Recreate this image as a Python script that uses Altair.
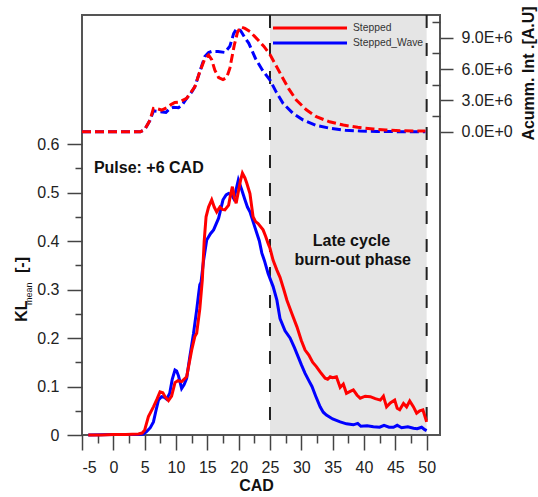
import altair as alt
import pandas as pd

# ---------------- data ----------------
# KL_mean [-] , series "Stepped" (red, solid)
kl_red_cad = [-4, -2, 0, 2, 4, 4.6, 5.0, 5.6, 6.4, 7.0, 7.45, 7.9, 8.25, 8.8, 9.3, 9.84, 10.3, 10.9,
              11.7, 12.5, 13.0, 13.3, 13.8, 14.2, 14.5, 14.8, 15.2, 15.7, 16.1, 16.5, 17.0, 17.4, 17.8,
              18.4, 18.7, 19.0, 19.3, 19.6, 20.0, 20.3, 20.6, 21.0, 21.3, 21.8, 22.3, 22.7, 23.1, 23.9,
              24.3, 24.7, 25.0, 25.5, 26.1, 26.6, 27.2, 27.7, 28.5, 29.3, 30.0, 30.6, 31.2, 31.8, 32.4,
              33.0, 33.8, 34.2, 34.6, 35.0, 35.6, 36.2, 36.7, 37.2, 37.8, 38.3, 38.9, 39.4, 40.2, 41.0,
              41.8, 42.6, 43.1, 43.6, 44.2, 44.9, 45.3, 45.7, 46.3, 46.8, 47.3, 47.9, 48.4, 48.9, 49.4, 50.0]
kl_red_val = [0.0, 0.0, 0.001, 0.001, 0.002, 0.004, 0.01, 0.038, 0.058, 0.075, 0.089, 0.087, 0.079, 0.071,
              0.08, 0.108, 0.112, 0.11, 0.12, 0.175, 0.203, 0.21, 0.26, 0.32, 0.40, 0.45, 0.47, 0.485,
              0.47, 0.46, 0.47, 0.465, 0.464, 0.474, 0.495, 0.512, 0.49, 0.478, 0.505, 0.525, 0.54, 0.53,
              0.519, 0.498, 0.45, 0.44, 0.436, 0.423, 0.41, 0.395, 0.385, 0.36, 0.34, 0.325, 0.30, 0.278,
              0.25, 0.223, 0.195, 0.175, 0.165, 0.15, 0.141, 0.13, 0.117, 0.115, 0.12, 0.118, 0.12, 0.098,
              0.105, 0.086, 0.09, 0.093, 0.082, 0.076, 0.08, 0.079, 0.075, 0.072, 0.08, 0.058, 0.066,
              0.072, 0.055, 0.052, 0.065, 0.058, 0.07, 0.058, 0.045, 0.05, 0.052, 0.027]

# KL_mean [-] , series "Stepped_Wave" (blue, solid)
kl_blue_cad = [-4, 0, 4, 4.8, 5.3, 5.9, 6.4, 6.8, 7.2, 7.7, 8.1, 8.5, 9.0, 9.4, 9.84, 10.1, 10.4, 10.9, 11.3,
               11.7, 12.2, 12.8, 13.3, 13.6, 13.8, 14.0, 14.4, 14.9, 15.5, 16.0, 16.8, 17.5, 18.0, 18.4,
               18.9, 19.2, 19.4, 19.95, 20.5, 21.0, 21.4, 21.8, 22.3, 22.9, 23.3, 23.7, 24.1, 24.7, 25.5,
               26.1, 26.6, 27.4, 28.2, 28.9, 29.5, 30.0, 30.6, 31.2, 31.7, 32.3, 33.0, 33.5, 34.0, 35.0,
               36.2, 37.2, 38.3, 39.0, 39.5, 40.5, 41.5, 42.5, 43.2, 44.0, 44.7, 45.3, 46.0, 47.0, 47.9,
               48.5, 49.2, 49.7, 50.0]
kl_blue_val = [0.0, 0.001, 0.001, 0.002, 0.007, 0.015, 0.027, 0.05, 0.072, 0.079, 0.078, 0.074, 0.086,
               0.115, 0.134, 0.132, 0.122, 0.096, 0.104, 0.117, 0.161, 0.21, 0.258, 0.29, 0.31, 0.315,
               0.36, 0.402, 0.415, 0.423, 0.447, 0.485, 0.495, 0.498, 0.495, 0.488, 0.495, 0.526, 0.505,
               0.485, 0.47, 0.46, 0.44, 0.416, 0.40, 0.375, 0.36, 0.333, 0.306, 0.278, 0.24, 0.215, 0.2,
               0.18, 0.161, 0.145, 0.127, 0.112, 0.1, 0.08, 0.058, 0.047, 0.041, 0.033, 0.027, 0.023,
               0.021, 0.024, 0.018, 0.019, 0.017, 0.016, 0.02, 0.016, 0.016, 0.02, 0.015, 0.017, 0.014,
               0.013, 0.016, 0.011, 0.009]

# Accumulated intensity [A.U] (in units of 1E+6), dashed curves
acc_red_cad = [-5, 4.3, 5.0, 5.85, 6.4, 7.0, 7.7, 8.5, 9.2, 9.8, 10.5, 11.7, 13.0, 13.8, 14.6, 15.2, 15.7,
               16.2, 16.8, 17.5, 18.1, 18.6, 19.3, 19.8, 20.3, 21.0, 21.8, 23.1, 24.0, 25.0, 26.0, 26.9,
               28.0, 29.2, 30.8, 32.4, 34.5, 36.7, 39.0, 41.5, 43.5, 45.8, 48.0, 49.8]
acc_red_e6 = [0.0, 0.0, 0.2, 1.12, 2.24, 2.2, 2.08, 2.3, 2.6, 2.8, 2.85, 3.2, 4.3, 5.75, 7.0, 7.35, 6.9,
              5.9, 5.2, 5.0, 5.2, 6.1, 8.3, 9.5, 10.05, 9.9, 9.6, 8.8, 8.2, 7.4, 6.3, 5.3, 4.1, 3.04, 2.1,
              1.44, 0.95, 0.64, 0.42, 0.26, 0.17, 0.1, 0.08, 0.07]

acc_blue_cad = [-5, 4.3, 5.0, 5.85, 6.4, 7.2, 7.8, 8.4, 9.0, 9.6, 10.4, 11.0, 11.7, 12.5, 13.0, 13.8, 14.6,
                15.2, 15.7, 16.7, 17.8, 18.6, 19.2, 19.7, 20.3, 21.0, 21.6, 22.7, 23.8, 25.0, 26.0, 27.1,
                28.6, 30.3, 32.4, 34.6, 37.0, 39.4, 42.0, 45.0, 49.8]
acc_blue_e6 = [0.0, 0.0, 0.2, 1.1, 2.0, 1.95, 1.9, 1.86, 2.2, 2.35, 2.3, 2.6, 3.2, 3.8, 4.3, 5.75, 7.2,
               7.6, 7.7, 7.7, 7.6, 8.2, 9.4, 9.9, 9.7, 9.0, 8.5, 7.0, 5.9, 4.95, 3.8, 2.7, 1.8, 1.12, 0.6,
               0.33, 0.15, 0.07, 0.03, 0.01, 0.0]

series_names = ["Stepped", "Stepped_Wave"]
series_colors = ["#ff0000", "#0000ff"]

phase_bounds = [25, 50]                    # late cycle burn-out phase (CAD)
x_major = [-5, 0, 5, 10, 15, 20, 25, 30, 35, 40, 45, 50]
x_minor = [-2.5, 2.5, 7.5, 12.5, 17.5, 22.5, 27.5, 32.5, 37.5, 42.5, 47.5]
yl_major = [0, 0.1, 0.2, 0.3, 0.4, 0.5, 0.6]
yl_minor = [0.05, 0.15, 0.25, 0.35, 0.45, 0.55]
yr_major = [0, 3e6, 6e6, 9e6]
yr_minor = [1.5e6, 4.5e6, 7.5e6, 10.5e6]

notes_text = ["Pulse: +6 CAD", "Late cycle", "burn-out phase"]
notes_cad = [-3.1, 38.0, 38.2]
notes_kl = [0.551, 0.399, 0.361]

# ---------------- tables ----------------
kl_red = pd.DataFrame({"CAD": kl_red_cad, "v": kl_red_val, "series": "Stepped"})
kl_blue = pd.DataFrame({"CAD": kl_blue_cad, "v": kl_blue_val, "series": "Stepped_Wave"})
acc_red = pd.DataFrame({"CAD": acc_red_cad, "v": [a * 1e6 for a in acc_red_e6]})
acc_blue = pd.DataFrame({"CAD": acc_blue_cad, "v": [a * 1e6 for a in acc_blue_e6]})
phase = pd.DataFrame({"a": [phase_bounds[0]], "b": [phase_bounds[1]]})
bounds = pd.DataFrame({"x": phase_bounds})
notes = pd.DataFrame({"t": notes_text, "CAD": notes_cad, "v": notes_kl})
legend_df = pd.DataFrame({"series": series_names, "row": [0, 1]})
dummy = pd.DataFrame({"CAD": [0], "v": [0.0], "a": [0.0]})

W, H = 358, 420
FONT = "Liberation Sans"
xs = alt.Scale(domain=[-5, 52.13], nice=False, zero=False)
yl = alt.Scale(domain=[0, 0.866], nice=False, zero=False)
yr = alt.Scale(domain=[-29.07e6, 11.19e6], nice=False, zero=False)
cs = alt.Scale(domain=series_names, range=series_colors)
leg_y = alt.Y("row:Q", scale=alt.Scale(domain=[0, 1], range=[13, 28]), axis=None)

x_none = alt.X("CAD:Q", scale=xs, axis=None)

rect = alt.Chart(phase).mark_rect(color="#e5e5e5").encode(
    x=alt.X("a:Q", scale=xs, axis=None), x2="b:Q",
    y=alt.value(1), y2=alt.value(H - 1))

rules = alt.Chart(bounds).mark_rule(color="#222222", strokeWidth=2, strokeDash=[13, 15]).encode(
    x=alt.X("x:Q", scale=xs, axis=None))

acc_b = alt.Chart(acc_blue).mark_line(color="#0000ff", strokeWidth=3, strokeDash=[9, 4]).encode(
    x=alt.X("CAD:Q", scale=xs, axis=alt.Axis(
        values=x_major, orient="bottom", domain=False, grid=False, tickSize=15, tickWidth=1.5,
        tickColor="#444444", labelFont=FONT, labelFontSize=16, labelColor="#222222", labelPadding=9,
        labelExpr="toString(datum.value)",
        title="CAD", titleFont=FONT, titleFontSize=16, titleFontWeight="bold", titleColor="#111111",
        titleX=174, titleY=55, titleBaseline="alphabetic", titleAlign="center")),
    y=alt.Y("v:Q", scale=yr, axis=alt.Axis(
        values=yr_major, orient="right", domain=False, grid=False, tickSize=13, tickWidth=1.5,
        tickColor="#444444", labelFont=FONT, labelFontSize=16, labelColor="#222222", labelPadding=8,
        labelExpr="replace(format(datum.value, '.1e'), 'e', 'E')",
        title="Acumm. Int .[A.U]", titleFont=FONT, titleFontSize=16, titleFontWeight="bold",
        titleColor="#111111", titleAngle=270, titleX=88, titleY=58, titleBaseline="middle",
        titleAlign="center")))

acc_r = alt.Chart(acc_red).mark_line(color="#ff0000", strokeWidth=3, strokeDash=[9, 4]).encode(
    x=x_none, y=alt.Y("v:Q", scale=yr, axis=None))

kl_b = alt.Chart(kl_blue).mark_line(strokeWidth=3).encode(
    x=x_none,
    y=alt.Y("v:Q", scale=yl, axis=alt.Axis(
        values=yl_major, orient="left", domain=False, grid=False, tickSize=15, tickWidth=1.5,
        tickColor="#444444", labelFont=FONT, labelFontSize=16, labelColor="#222222", labelPadding=8,
        format="~g", title=None)),
    color=alt.Color("series:N", scale=cs, legend=None))

kl_r = alt.Chart(kl_red).mark_line(strokeWidth=3).encode(
    x=x_none, y=alt.Y("v:Q", scale=yl, axis=None),
    color=alt.Color("series:N", scale=cs, legend=None))

# legend drawn from the series table
leg_lines = alt.Chart(legend_df).mark_rule(strokeWidth=3).encode(
    x=alt.value(191), x2=alt.value(265), y=leg_y,
    color=alt.Color("series:N", scale=cs, legend=None))
leg_text = alt.Chart(legend_df).mark_text(font=FONT, fontSize=10.3, color="#333333", align="left",
                                          baseline="middle").encode(
    x=alt.value(271), y=leg_y, text="series:N")

txt_left = alt.Chart(notes.iloc[[0]]).mark_text(font=FONT, fontSize=16, fontWeight="bold",
                                                color="#111111", baseline="middle", align="left").encode(
    x=x_none, y=alt.Y("v:Q", scale=yl, axis=None), text="t:N")
txt_center = alt.Chart(notes.iloc[1:]).mark_text(font=FONT, fontSize=16, fontWeight="bold",
                                                 color="#111111", baseline="middle", align="center").encode(
    x=x_none, y=alt.Y("v:Q", scale=yl, axis=None), text="t:N")

minor_xl = alt.Chart(dummy).mark_point(opacity=0).encode(
    x=alt.X("CAD:Q", scale=xs, axis=alt.Axis(
        values=x_minor, orient="bottom", domain=False, grid=False, labels=False, tickSize=8,
        tickWidth=1.5, tickColor="#444444", title=None)),
    y=alt.Y("v:Q", scale=yl, axis=alt.Axis(
        values=yl_minor, orient="left", domain=False, grid=False, labels=False, tickSize=7,
        tickWidth=1.5, tickColor="#444444", title=None)))

minor_r = alt.Chart(dummy).mark_point(opacity=0).encode(
    x=x_none,
    y=alt.Y("a:Q", scale=yr, axis=alt.Axis(
        values=yr_minor, orient="left", offset=-W, domain=False, grid=False, labels=False,
        tickSize=8, tickWidth=1.5, tickColor="#444444", title=None)))

# y-axis title KL_mean [-] with a subscript, as rotated text pieces
kl_title = pd.DataFrame({"t": ["KL", "mean", "[-]"]})
t_kl = alt.Chart(kl_title.iloc[[0]]).mark_text(font=FONT, fontSize=16, fontWeight="bold", angle=270,
                                               align="left", baseline="alphabetic", color="#111111").encode(
    text="t:N", x=alt.value(27 - 82), y=alt.value(321.7 - 15))
t_mean = alt.Chart(kl_title.iloc[[1]]).mark_text(font=FONT, fontSize=9, angle=270, align="left",
                                                 baseline="alphabetic", color="#111111").encode(
    text="t:N", x=alt.value(31.5 - 82), y=alt.value(305 - 15))
t_br = alt.Chart(kl_title.iloc[[2]]).mark_text(font=FONT, fontSize=16, fontWeight="bold", angle=270,
                                               align="left", baseline="alphabetic", color="#111111").encode(
    text="t:N", x=alt.value(27 - 82), y=alt.value(273 - 15))

chart = alt.layer(
    rect, rules, acc_b, acc_r, kl_b, kl_r, leg_lines, leg_text, txt_left, txt_center,
    minor_xl, minor_r, t_kl, t_mean, t_br
).resolve_scale(y="independent").resolve_axis(x="independent", y="independent").properties(
    width=W, height=H,
    autosize=alt.AutoSizeParams(type="none"),
    padding={"left": 82, "top": 15, "right": 98, "bottom": 62},
    background="white",
).configure_view(stroke="#555555", strokeWidth=2)

chart.save("out.html", embed_options={"renderer": "svg", "actions": False})
